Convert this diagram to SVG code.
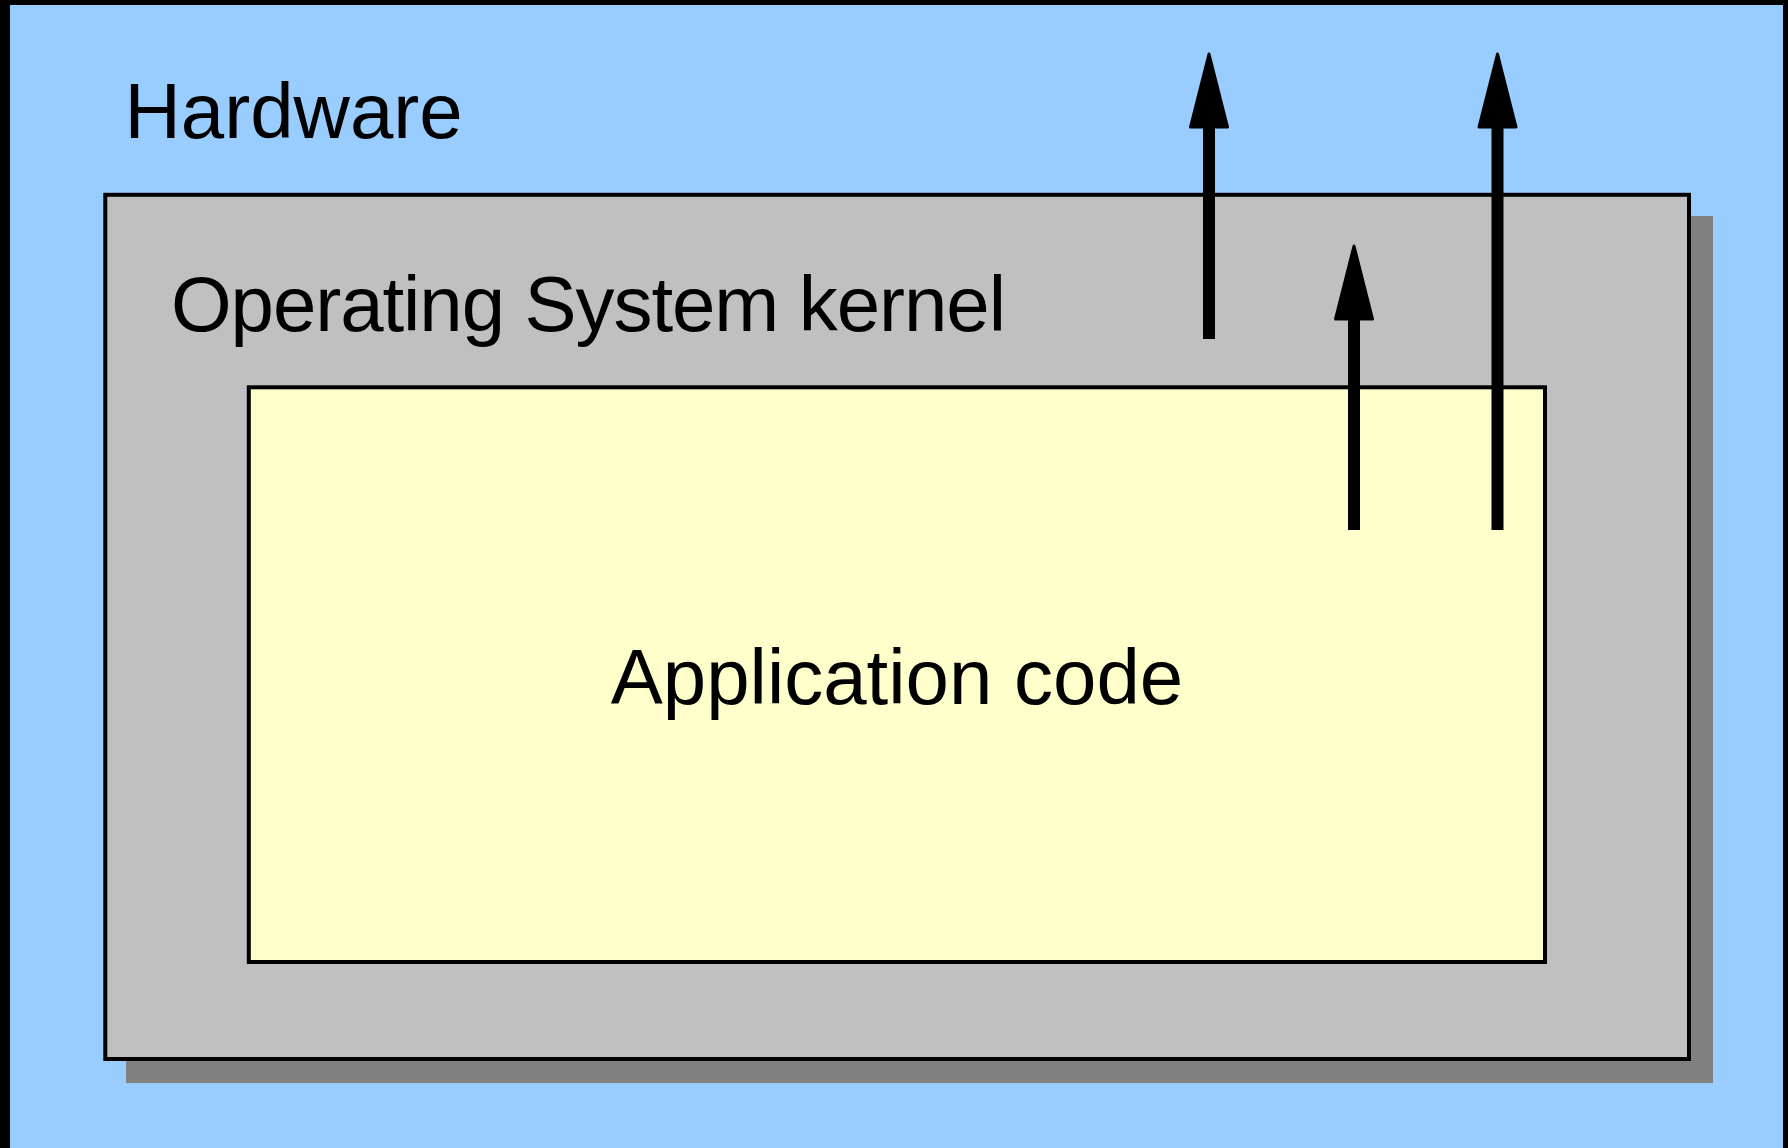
<svg xmlns="http://www.w3.org/2000/svg" width="1788" height="1148" viewBox="0 0 1788 1148">
  <style>
    .label { font-family: "Liberation Sans", Arial, sans-serif; font-size: 78px; fill: #000000; }
    .box { stroke: #000000; stroke-width: 4; }
    .shaft { fill: #000000; }
    .head { fill: #000000; stroke: #000000; stroke-width: 3; stroke-linejoin: round; }
  </style>
  <defs>
    <!-- arrow pointing up, tip at (0,0) -->
    <g id="arrowHead">
      <polygon class="head" points="0,3 18.5,76 -18.5,76"/>
    </g>
  </defs>

  <!-- frame and hardware background -->
  <rect x="0" y="0" width="1788" height="1148" fill="#000000"/>
  <g id="hardware">
    <rect x="10" y="5" width="1773" height="1143" fill="#99CCFF"/>
    <text class="label" x="124.5" y="138">Hardware</text>
  </g>

  <!-- operating system kernel layer with drop shadow -->
  <g id="kernel">
    <rect x="126" y="216" width="1587" height="867" fill="#808080"/>
    <rect class="box" x="105.3" y="194.8" width="1583.7" height="864.2" fill="#C0C0C0"/>
    <text class="label" x="171" y="331" textLength="835" lengthAdjust="spacing">Operating System kernel</text>
  </g>

  <!-- application layer -->
  <g id="application">
    <rect class="box" x="248.8" y="387.3" width="1296.2" height="574.7" fill="#FFFFCC"/>
    <text class="label" x="897" y="704" text-anchor="middle">Application code</text>
  </g>

  <!-- calls going outward -->
  <g id="connectors">
    <g id="kernel-to-hardware">
      <rect class="shaft" x="1203" y="120" width="12" height="219"/>
      <use href="#arrowHead" x="1209" y="51"/>
    </g>
    <g id="app-to-kernel">
      <rect class="shaft" x="1348" y="312" width="12" height="218"/>
      <use href="#arrowHead" x="1354" y="243"/>
    </g>
    <g id="app-to-hardware">
      <rect class="shaft" x="1491.5" y="120" width="12" height="410"/>
      <use href="#arrowHead" x="1497.5" y="51"/>
    </g>
  </g>
</svg>
